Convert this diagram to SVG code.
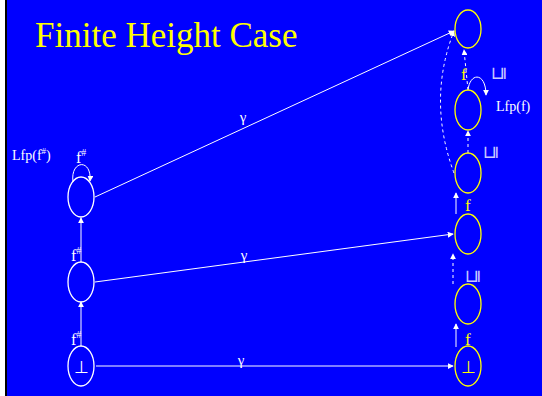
<svg xmlns="http://www.w3.org/2000/svg" width="542" height="396" viewBox="0 0 542 396">
<defs>
<marker id="ah" viewBox="0 0 8 8" refX="7" refY="4" markerWidth="6" markerHeight="6" orient="auto" markerUnits="userSpaceOnUse">
<path d="M0,0 L8,4 L0,8 z" fill="#ffffff"/>
</marker>
</defs>
<style>
.bg{fill:#0000ff}
.wn{fill:none;stroke:#ffffff;stroke-width:1.3}
.yn{fill:none;stroke:#ffff00;stroke-width:1.3}
.ln{fill:none;stroke:#ffffff;stroke-width:1;marker-end:url(#ah)}
.ds{stroke-dasharray:3,3}
.t{font-family:"Liberation Serif","Times New Roman",serif;fill:#ffffff}
.ty{font-family:"Liberation Serif","Times New Roman",serif;fill:#ffff00}
.sq{font-family:"DejaVu Sans",sans-serif;fill:#c8c8ff;font-size:18px}
</style>
<rect x="0" y="0" width="542" height="396" class="bg"/>
<rect x="0" y="0" width="5" height="396" fill="#ffffff"/>
<rect x="5" y="0" width="2" height="396" fill="#000000"/>
<text x="35" y="47" class="ty" font-size="35">Finite Height Case</text>

<g id="connectors">
<line x1="95" y1="197" x2="454" y2="31" class="ln"/>
<line x1="95" y1="282" x2="453" y2="234" class="ln"/>
<line x1="96" y1="366" x2="453" y2="366" class="ln"/>
<line x1="81" y1="346" x2="81" y2="302" class="ln"/>
<line x1="81" y1="262" x2="81" y2="218" class="ln"/>
<path d="M73,182 C70,160 92,158 90,181" class="ln"/>
<line x1="456" y1="347" x2="456" y2="324" class="ln"/>
<line x1="453" y1="284" x2="453" y2="254" class="ln ds"/>
<line x1="456" y1="214" x2="456" y2="193" class="ln"/>
<line x1="468" y1="153" x2="468" y2="131" class="ln ds"/>
<line x1="468" y1="90" x2="464" y2="50" class="ln ds"/>
<path d="M468,90 C470,72 486,72 486,95" class="ln"/>
<path d="M454,173 Q427,100 454,31" class="ln ds"/>
</g>

<g id="n-left-bot"><ellipse cx="81" cy="366" rx="13" ry="20" class="wn"/><text x="81" y="373" class="t" font-size="17" text-anchor="middle">⊥</text></g>
<g id="n-left-mid"><ellipse cx="81" cy="282" rx="13" ry="20" class="wn"/></g>
<g id="n-left-top"><ellipse cx="81" cy="197" rx="13" ry="20" class="wn"/></g>

<g id="n-r1"><ellipse cx="468" cy="366" rx="13" ry="20" class="yn"/><text x="468" y="373" class="ty" font-size="17" text-anchor="middle">⊥</text></g>
<g id="n-r2"><ellipse cx="468" cy="304" rx="13" ry="20" class="yn"/></g>
<g id="n-r3"><ellipse cx="468" cy="234" rx="13" ry="20" class="yn"/></g>
<g id="n-r4"><ellipse cx="468" cy="173" rx="13" ry="20" class="yn"/></g>
<g id="n-r5"><ellipse cx="468" cy="110" rx="13" ry="20" class="yn"/></g>
<g id="n-r6"><ellipse cx="468" cy="29" rx="13" ry="19" class="yn"/></g>

<g id="labels">
<text x="243" y="122" class="t" font-size="15" text-anchor="middle">γ</text>
<text x="244" y="260" class="t" font-size="15" text-anchor="middle">γ</text>
<text x="241" y="365" class="t" font-size="15" text-anchor="middle">γ</text>
<text x="71" y="345" class="t" font-size="16">f<tspan font-size="10" dy="-7">#</tspan></text>
<text x="71" y="261" class="t" font-size="16">f<tspan font-size="10" dy="-7">#</tspan></text>
<text x="76" y="163" class="t" font-size="16">f<tspan font-size="10" dy="-7">#</tspan></text>
<text x="12" y="160" class="t" font-size="14">Lfp(f<tspan font-size="9" dy="-6">#</tspan><tspan dy="6">)</tspan></text>
<text x="496" y="111" class="t" font-size="14">Lfp(f)</text>
<text x="465" y="345" class="ty" font-size="17">f</text>
<text x="465" y="211" class="ty" font-size="17">f</text>
<text x="461" y="80" class="ty" font-size="17">f</text>
<text class="sq" transform="translate(478,284) rotate(-90)">⊑</text>
<text class="sq" transform="translate(496,160) rotate(-90)">⊑</text>
<text class="sq" transform="translate(504,81) rotate(-90)">⊑</text>
</g>
</svg>
